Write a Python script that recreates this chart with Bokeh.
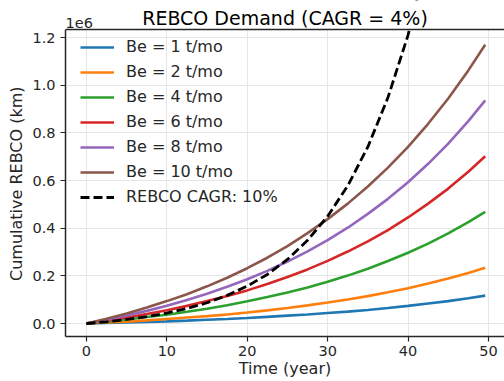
from bokeh.plotting import figure
from bokeh.models import (Range1d, FixedTicker, Label, Legend, LegendItem,
                          NumeralTickFormatter, BoxAnnotation, Span)
from bokeh.embed import file_html
from bokeh.resources import INLINE

# Time (years)
years = [0, 2.5, 5, 7.5, 10, 12.5, 15, 17.5, 20, 22.5, 25, 27.5, 30, 32.5, 35,
         37.5, 40, 42.5, 45, 47.5, 49.6]

# Cumulative REBCO, units of 1e6 km
be1 = [0, 0.002, 0.004, 0.007, 0.009, 0.012, 0.016, 0.019, 0.023, 0.028, 0.033,
       0.038, 0.044, 0.050, 0.057, 0.065, 0.074, 0.084, 0.094, 0.106, 0.117]
be2 = [0, 0.004, 0.008, 0.013, 0.019, 0.025, 0.031, 0.038, 0.046, 0.055, 0.065,
       0.076, 0.088, 0.101, 0.115, 0.131, 0.148, 0.168, 0.189, 0.212, 0.234]
be4 = [0, 0.008, 0.017, 0.027, 0.037, 0.049, 0.062, 0.077, 0.093, 0.111, 0.130,
       0.151, 0.175, 0.201, 0.230, 0.262, 0.297, 0.335, 0.378, 0.425, 0.468]
be6 = [0, 0.012, 0.025, 0.040, 0.056, 0.074, 0.094, 0.115, 0.139, 0.166, 0.195,
       0.227, 0.263, 0.302, 0.345, 0.392, 0.445, 0.503, 0.566, 0.637, 0.702]
be8 = [0, 0.016, 0.034, 0.053, 0.075, 0.099, 0.125, 0.154, 0.186, 0.221, 0.260,
       0.303, 0.350, 0.402, 0.460, 0.523, 0.593, 0.670, 0.755, 0.849, 0.936]
be10 = [0, 0.020, 0.042, 0.067, 0.094, 0.123, 0.156, 0.192, 0.232, 0.276, 0.325,
        0.379, 0.438, 0.503, 0.575, 0.654, 0.741, 0.838, 0.944, 1.062, 1.170]

cagr_years = [0, 2.5, 5, 7.5, 10, 12.5, 15, 17.5, 20, 22.5, 25, 27.5, 30, 32.5,
              35, 37.5, 40, 42.5]
cagr10 = [0, 0.007, 0.017, 0.029, 0.044, 0.063, 0.087, 0.118, 0.157, 0.206, 0.269,
          0.349, 0.450, 0.578, 0.741, 0.948, 1.210, 1.543]

series_labels = ["Be = 1 t/mo", "Be = 2 t/mo", "Be = 4 t/mo", "Be = 6 t/mo",
                 "Be = 8 t/mo", "Be = 10 t/mo"]
cagr_label = "REBCO CAGR: 10%"
title_text = "REBCO Demand (CAGR = 4%)"
x_ticks = [0, 10, 20, 30, 40, 50]
y_ticks = [0.0, 0.2, 0.4, 0.6, 0.8, 1.0, 1.2]

colors = ["#1f77b4", "#ff7f0e", "#2ca02c", "#d62728", "#9467bd", "#8c564b"]
FONT = "DejaVu Sans"
DARK = "#262626"

XMIN, XMAX = -2.61, 52.0
YMIN, YMAX = -0.0545, 1.2336      # visible axes box
YTOP = 1.3553                      # extra room above the box for title text

p = figure(width=504, height=381, output_backend="svg",
           toolbar_location=None,
           x_range=Range1d(XMIN, XMAX), y_range=Range1d(YMIN, YTOP),
           min_border_left=65, min_border_right=0, min_border_top=0,
           min_border_bottom=45, outline_line_color=None,
           background_fill_color="white", border_fill_color="white")

# grid
for g in (p.xgrid, p.ygrid):
    g.grid_line_color = "#e6e6e6"
    g.grid_line_width = 1
p.xgrid.ticker = FixedTicker(ticks=x_ticks)
p.ygrid.ticker = FixedTicker(ticks=y_ticks)

# axes
for ax in (p.xaxis[0], p.yaxis[0]):
    ax.axis_line_color = DARK
    ax.axis_line_width = 1.5
    ax.major_tick_line_color = DARK
    ax.major_tick_line_width = 1.2
    ax.major_tick_out = 5
    ax.major_tick_in = 0
    ax.minor_tick_line_color = None
    ax.major_label_text_font = FONT
    ax.major_label_text_font_size = "14.5px"
    ax.major_label_text_color = DARK
    ax.axis_label_text_font = FONT
    ax.axis_label_text_font_size = "16px"
    ax.axis_label_text_font_style = "normal"
    ax.axis_label_text_color = DARK

p.xaxis.ticker = FixedTicker(ticks=x_ticks)
p.yaxis.ticker = FixedTicker(ticks=y_ticks)
p.yaxis.bounds = (YMIN, YMAX)
p.yaxis.formatter = NumeralTickFormatter(format="0.0")
p.xaxis.major_label_standoff = 4
p.yaxis.major_label_standoff = 5
p.xaxis.axis_label = "Time (year)"
p.xaxis.axis_label_standoff = 0
p.yaxis.axis_label = "Cumulative REBCO (km)" + "\u00a0" * 6
p.yaxis.axis_label_standoff = 3

items = []
for ys, c, lab in zip([be1, be2, be4, be6, be8, be10], colors, series_labels):
    r = p.line(years, ys, line_color=c, line_width=2.6)
    items.append(LegendItem(label=lab, renderers=[r]))
rc = p.line(cagr_years, cagr10, line_color="black", line_width=2.8,
            line_dash="9 4")
items.append(LegendItem(label=cagr_label, renderers=[rc]))

# white band above the axes box, then the top spine
p.add_layout(BoxAnnotation(bottom=YMAX, fill_color="white", fill_alpha=1,
                           line_color=None))
p.add_layout(Span(location=YMAX, dimension="width", line_color=DARK,
                  line_width=1.5))

legend = Legend(items=items, location=(15, 130), margin=0, padding=0,
                spacing=6, label_height=14, glyph_height=14, glyph_width=34,
                label_standoff=12, label_text_font=FONT,
                label_text_font_size="16px", label_text_color=DARK,
                background_fill_alpha=0, border_line_color=None)
p.add_layout(legend)

# title
p.add_layout(Label(x=(XMIN + XMAX) / 2, y=YMAX, y_offset=12, text=title_text,
                   text_align="center", text_baseline="alphabetic",
                   text_font=FONT, text_font_size="19px", text_color="black"))
# offset text
p.add_layout(Label(x=XMIN, y=YMAX, y_offset=7, text="1e6", text_align="left",
                   text_baseline="alphabetic", text_font=FONT,
                   text_font_size="14.5px", text_color=DARK))

open("out.html", "w").write(file_html(p, INLINE))
